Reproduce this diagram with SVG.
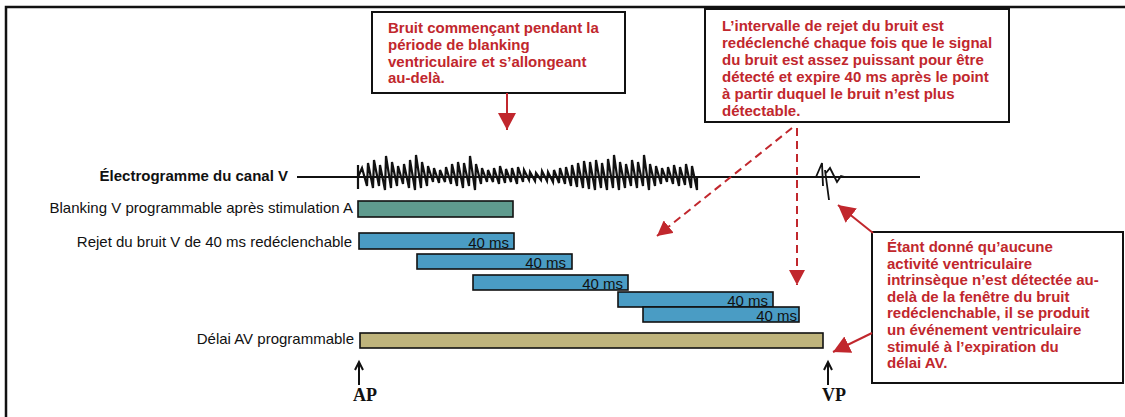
<svg xmlns="http://www.w3.org/2000/svg" width="1125" height="417" viewBox="0 0 1125 417">
<style>
.lbl{font-family:"Liberation Sans",Arial,sans-serif;font-size:15px;fill:#111}
.lblb{font-family:"Liberation Sans",Arial,sans-serif;font-size:15px;font-weight:bold;fill:#111}
.note{font-family:"Liberation Sans",Arial,sans-serif;font-size:15px;font-weight:bold;fill:#c1272d}
.box{fill:#fff;stroke:#111;stroke-width:2}
.bar{stroke:#111;stroke-width:1.6}
.blue{fill:#4a9cc4}
.ms{font-family:"Liberation Sans",Arial,sans-serif;font-size:15px;fill:#111;text-anchor:end}
.pv{font-family:"Liberation Serif","Times New Roman",serif;font-size:18px;font-weight:bold;fill:#111;text-anchor:middle}
.red{stroke:#c1272d;stroke-width:2;fill:none}
.dash{stroke-dasharray:8 5}
.blk{stroke:#111;fill:none}
</style>
<defs>
<marker id="ah" markerUnits="userSpaceOnUse" markerWidth="18" markerHeight="18" refX="17" refY="9" orient="auto">
<path d="M0,0 L17,9 L0,18 z" fill="#c1272d"/>
</marker>
<marker id="ahs" markerUnits="userSpaceOnUse" markerWidth="16" markerHeight="16" refX="15" refY="8" orient="auto">
<path d="M0,0 L15,8 L0,16 z" fill="#c1272d"/>
</marker>
</defs>
<rect width="1125" height="417" fill="#fff"/>
<path d="M6,417 V7 H1125" class="blk" stroke-width="2.5"/>

<g id="note-blanking">
<rect class="box" x="372" y="12" width="253" height="81"/>
<text class="note" x="388" y="33">Bruit commençant pendant la</text>
<text class="note" x="388" y="50">période de blanking</text>
<text class="note" x="388" y="66.5">ventriculaire et s’allongeant</text>
<text class="note" x="388" y="83">au-delà.</text>
</g>

<g id="note-rejet">
<rect class="box" x="705" y="9" width="304" height="113"/>
<text class="note" x="722" y="31">L’intervalle de rejet du bruit est</text>
<text class="note" x="722" y="48">redéclenché chaque fois que le signal</text>
<text class="note" x="722" y="65">du bruit est assez puissant pour être</text>
<text class="note" x="722" y="82">détecté et expire 40 ms après le point</text>
<text class="note" x="722" y="99">à partir duquel le bruit n’est plus</text>
<text class="note" x="722" y="116">détectable.</text>
</g>

<g id="note-vp">
<rect class="box" x="872" y="232" width="251" height="151"/>
<text class="note" x="887" y="252">Étant donné qu’aucune</text>
<text class="note" x="887" y="268.6">activité ventriculaire</text>
<text class="note" x="887" y="285.2">intrinsèque n’est détectée au-</text>
<text class="note" x="887" y="301.8">delà de la fenêtre du bruit</text>
<text class="note" x="887" y="318.4">redéclenchable, il se produit</text>
<text class="note" x="887" y="335">un événement ventriculaire</text>
<text class="note" x="887" y="351.6">stimulé à l’expiration du</text>
<text class="note" x="887" y="368.2">délai AV.</text>
</g>

<g id="electrogram">
<text class="lblb" x="288" y="181" text-anchor="end">Électrogramme du canal V</text>
<path d="M297,177 H920" class="blk" stroke-width="2"/>
<path d="M358,165 V189" class="blk" stroke-width="2.2"/>
<path class="blk" stroke-width="2.2" stroke-linejoin="miter" d="M358,177 L362,168 L367,186 L368,163 L373,188 L374,160 L379,186 L380,165 L385,190 L386,156 L391,188 L392,162 L397,186 L398,166 L403,184 L404,164 L409,188 L410,160 L415,190 L416,155 L421,188 L422,162 L427,186 L428,166 L433,182 L434,168 L439,183 L440,170 L445,182 L446,167 L451,184 L452,164 L457,186 L458,162 L463,188 L464,163 L469,186 L470,156 L475,190 L476,164 L481,184 L482,168 L487,182 L488,170 L493,182 L494,168 L499,184 L500,166 L505,183 L506,169 L511,182 L512,168 L517,184 L518,167 L523,182 L524,170 L529,180 L530,172 L535,181 L536,173 L541,180 L542,171 L547,181 L548,172 L553,182 L554,170 L559,183 L560,168 L565,184 L566,167 L571,186 L572,165 L577,187 L578,163 L583,188 L584,161 L589,189 L590,162 L595,190 L596,160 L601,188 L602,163 L607,190 L608,159 L613,188 L614,155 L619,190 L620,162 L625,188 L626,164 L631,186 L632,160 L637,188 L638,162 L643,186 L644,155 L649,190 L650,164 L655,186 L656,166 L661,184 L662,168 L667,182 L668,167 L673,184 L674,165 L679,186 L680,167 L685,185 L686,164 L691,188 L692,166 L697,190 L697,177"/>
<path class="blk" stroke-width="1.8" d="M816,177 L822,163 L823,186 M825,170 L829,200 M826,173 L830,168 L837,182 L841,176 L845,177"/>
</g>

<g id="blanking">
<text class="lbl" x="353" y="213" text-anchor="end">Blanking V programmable après stimulation A</text>
<rect class="bar" x="358" y="201" width="155" height="16" fill="#5f9b8e"/>
</g>

<g id="rejet">
<text class="lbl" x="352" y="247" text-anchor="end">Rejet du bruit V de 40 ms redéclenchable</text>
<rect class="bar blue" x="359" y="233" width="155" height="16"/>
<text class="ms" x="509" y="247.5">40 ms</text>
<rect class="bar blue" x="417" y="254" width="155" height="15"/>
<text class="ms" x="566" y="267.5">40 ms</text>
<rect class="bar blue" x="473" y="275" width="155" height="15"/>
<text class="ms" x="623" y="288.5">40 ms</text>
<rect class="bar blue" x="618" y="292" width="155" height="15"/>
<text class="ms" x="768" y="305.5">40 ms</text>
<rect class="bar blue" x="643" y="307" width="156" height="15"/>
<text class="ms" x="797" y="320.5">40 ms</text>
</g>

<g id="delai">
<text class="lbl" x="354" y="344" text-anchor="end">Délai AV programmable</text>
<rect class="bar" x="360" y="333" width="463" height="15" fill="#bfb47c"/>
</g>

<g id="ap">
<path class="blk" stroke-width="2" d="M359,385 V363 M355,370 L359,362 L363,370"/>
<text class="pv" x="365" y="401">AP</text>
</g>
<g id="vp">
<path class="blk" stroke-width="2" d="M828,385 V363 M824,370 L828,362 L832,370"/>
<text class="pv" x="834" y="401">VP</text>
</g>

<g id="connectors">
<path class="red" d="M507,93 V130" marker-end="url(#ah)"/>
<path class="red dash" d="M792,128 L657,236" marker-end="url(#ahs)"/>
<path class="red dash" d="M797,128 V285" marker-end="url(#ahs)"/>
<path class="red" d="M873,233 L838,205" marker-end="url(#ah)"/>
<path class="red" d="M872,333 L833,352" marker-end="url(#ah)"/>
</g>
</svg>
